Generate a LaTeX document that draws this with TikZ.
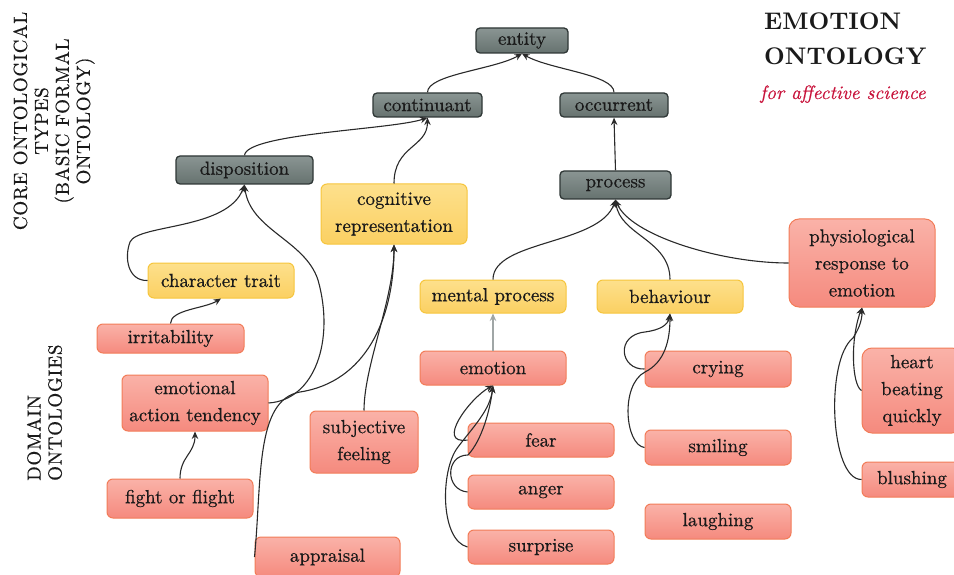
\documentclass[tikz,border=0pt]{standalone}
\usepackage{fontspec}
\newfontfamily\boxfont{lmroman10-regular.otf}[FakeBold=0.6]
\newfontfamily\sidefont{lmroman10-regular.otf}[FakeBold=0.5, LetterSpace=4]
\newfontfamily\subtitlefont{lmroman10-italic.otf}[FakeBold=0.5]
\newfontfamily\titlefont{lmroman10-bold.otf}
\usetikzlibrary{arrows.meta}

\definecolor{greytop}{HTML}{8A9593}
\definecolor{greybot}{HTML}{66726F}
\definecolor{greyline}{HTML}{2F3736}
\definecolor{yeltop}{HTML}{FDE08C}
\definecolor{yelbot}{HTML}{FBD062}
\definecolor{yelline}{HTML}{F6C53C}
\definecolor{pinktop}{HTML}{FAB2A8}
\definecolor{pinkbot}{HTML}{F58A7E}
\definecolor{pinkline}{HTML}{F27C58}
\definecolor{titlered}{HTML}{C8143C}
\definecolor{ink}{HTML}{1A1A1A}
\definecolor{linkgrey}{HTML}{2A2A2A}
\definecolor{softlink}{HTML}{A0A6A6}

\tikzset{
  box/.style={rounded corners=4pt, align=center, inner sep=0pt, text=ink,
              font=\boxfont\fontsize{19}{27}\selectfont},
  corebox/.style={box, draw=greyline, line width=1.3pt, top color=greytop, bottom color=greybot},
  midbox/.style={box, draw=yelline, line width=1pt, top color=yeltop, bottom color=yelbot, rounded corners=6pt},
  leafbox/.style={box, draw=pinkline, line width=1pt, top color=pinktop, bottom color=pinkbot, rounded corners=6pt},
  link/.style={draw=linkgrey, line width=1.1pt, -{Stealth[length=7.5pt,width=6.5pt,inset=2.5pt]}},
  sz/.style 2 args={minimum width=#1, minimum height=#2},
  sidelabel/.style={inner sep=0pt, text=ink, rotate=90,
              font=\sidefont\fontsize{19}{21}\selectfont},
}

\begin{document}
\begin{tikzpicture}[x=1pt,y=-1pt]
\useasboundingbox (0,0) rectangle (954,575);
\clip (0,0) rectangle (954,575);

% side labels
\node[sidelabel, align=center] (core) at (54,121)
  {CORE ONTOLOGICAL\\TYPES\\(BASIC FORMAL\\ONTOLOGY)};
\node[sidelabel, align=left, anchor=west] (dom) at (44.5,481)
  {DOMAIN\\ONTOLOGIES};

% title
\node[anchor=base west, inner sep=0pt, text=ink, font=\titlefont\fontsize{24}{30}\selectfont] (t1) at (764,30) {EMOTION};
\node[anchor=base west, inner sep=0pt, text=ink, font=\titlefont\fontsize{24}{30}\selectfont] (t2) at (764,65) {ONTOLOGY};
\node[anchor=base west, inner sep=0pt, text=titlered, font=\subtitlefont\fontsize{19.3}{24}\selectfont] (t3) at (760,99) {for affective science};

% core ontological types
\node[corebox, sz={92pt}{25pt}]  (ent)  at (522,40.5)  {entity};
\node[corebox, sz={109pt}{24pt}] (cont) at (427.5,105) {continuant};
\node[corebox, sz={108pt}{24pt}] (occ)  at (614,105)   {occurrent};
\node[corebox, sz={137pt}{28pt}] (disp) at (244.5,170) {disposition};
\node[corebox, sz={111pt}{28pt}] (proc) at (615.5,185) {process};

% intermediate categories
\node[midbox, sz={146pt}{60pt}] (cog) at (394,214)   {cognitive\\representation};
\node[midbox, sz={146pt}{35pt}] (ct)  at (221,280.5) {character trait};
\node[midbox, sz={146pt}{33pt}] (mp)  at (493,296.5) {mental process};
\node[midbox, sz={146pt}{33pt}] (beh) at (670,296.5) {behaviour};

% domain ontology terms
\node[leafbox, sz={147pt}{29pt}] (irr)  at (170.5,338.5) {irritability};
\node[leafbox, sz={146pt}{56pt}] (eat)  at (195,403)     {emotional\\action tendency};
\node[leafbox, sz={146pt}{39pt}] (fof)  at (180,498.5)   {fight or flight};
\node[leafbox, sz={145pt}{40pt}] (app)  at (327.5,557)   {appraisal};
\node[leafbox, sz={108pt}{62pt}] (subj) at (364,442)     {subjective\\feeling};
\node[leafbox, sz={146pt}{88pt}, rounded corners=10pt] (phys) at (862,263) {physiological\\response to\\emotion};
\node[leafbox, sz={146pt}{34pt}] (emo)  at (493,368) {emotion};
\node[leafbox, sz={146pt}{34pt}] (fear) at (541,440) {fear};
\node[leafbox, sz={146pt}{34pt}] (ang)  at (541,492) {anger};
\node[leafbox, sz={146pt}{34pt}] (sur)  at (541,547) {surprise};
\node[leafbox, sz={146pt}{36pt}] (cry)  at (718,369)   {crying};
\node[leafbox, sz={146pt}{35pt}] (smi)  at (718,447.5) {smiling};
\node[leafbox, sz={146pt}{35pt}] (lau)  at (718,521.5) {laughing};
\node[leafbox, sz={100pt}{85pt}, rounded corners=10pt] (hrt) at (912,390.5) {heart\\beating\\quickly};
\node[leafbox, sz={100pt}{35pt}] (blu)  at (912,479.5) {blushing};

% is-a links, child to parent
\draw[link] (cont.north) .. controls +(0,-18) and +(-28,16) .. (ent.south);
\draw[link] (occ.north)  .. controls +(0,-18) and +(28,16) .. (ent.south);
\draw[link] (disp.north) .. controls +(2,-22) and +(-35,12) .. (cont.south);
\draw[link] (cog.north)  .. controls +(0,-38) and +(0,30) .. (cont.south);
\draw[link] (proc.north) -- (occ.south);

\draw[link] (ct.west) .. controls (128,281) and (124,258) .. (130,242)
                      .. controls (138,224) and (228,230) .. (disp.south);
\draw[link] (eat.east) .. controls (315,400) and (335,340) .. (318,280)
                       .. controls (305,240) and (250,230) .. (disp.south);
\draw[link] (irr.north) .. controls +(0,-14) and +(-16,10) .. (ct.south);
\draw[link] (fof.north) .. controls +(0,-22) and +(0,22) .. (eat.south);

\draw[link] (app.west) .. controls (262,480) and (255,400) .. (300,392)
                       .. controls (365,382) and (394,320) .. (cog.south);
\draw[link] (subj.north) .. controls +(0,-45) and +(0,55) .. (cog.south);

\draw[link] (mp.north)   .. controls (493,240) and (600,245) .. (proc.south);
\draw[link] (beh.north)  .. controls (670,240) and (620,235) .. (proc.south);
\draw[link] (phys.west)  .. controls (720,263) and (630,235) .. (proc.south);

\draw[link, draw=softlink] (emo.north) -- (mp.south);

\draw[link] (fear.west) .. controls (435,445) and (470,398) .. (emo.south);
\draw[link] (ang.west) .. controls (445,490) and (445,455) .. (468,455)
                       .. controls (482,440) and (490,410) .. (emo.south);
\draw[link] (sur.west) .. controls (440,540) and (440,470) .. (458,447)
                       .. controls (474,426) and (490,410) .. (emo.south);

\draw[link] (cry.west) .. controls (620,370) and (615,335) .. (645,332)
                       .. controls (660,330) and (668,325) .. (beh.south);
\draw[link] (smi.west) .. controls (625,445) and (620,385) .. (645,372)
                       .. controls (665,362) and (670,340) .. (beh.south);

\draw[link] (hrt.west) .. controls (852,385) and (850,340) .. (phys.south);
\draw[link] (blu.west) .. controls (830,480) and (825,360) .. (853,338)
                       .. controls (858,330) and (862,322) .. (phys.south);
\end{tikzpicture}
\end{document}
